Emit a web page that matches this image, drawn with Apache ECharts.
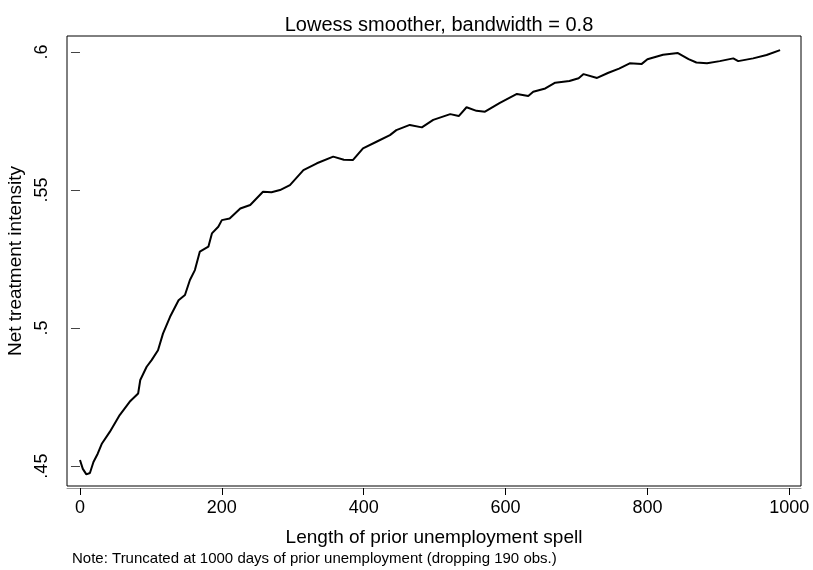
<!DOCTYPE html>
<html>
<head>
<meta charset="utf-8">
<script src="https://cdn.jsdelivr.net/npm/echarts@6/dist/echarts.min.js"></script>
<style>html,body{margin:0;padding:0;background:#fff}#c{width:813px;height:570px}</style>
</head>
<body>
<div id="c"></div>
<script>
const titleText = "Lowess smoother, bandwidth = 0.8";
const xTitle = "Length of prior unemployment spell";
const yTitle = "Net treatment intensity";
const noteText = "Note: Truncated at 1000 days of prior unemployment (dropping 190 obs.)";
const xTicks = [0, 200, 400, 600, 800, 1000];
const xTickLabels = ["0", "200", "400", "600", "800", "1000"];
const yTicks = [0.45, 0.5, 0.55, 0.6];
const yTickLabels = [".45", ".5", ".55", ".6"];
const spellDays = [0,4,9,14,19,25,31,42,56,70,82,85,94,101,110,117,127,139,148,155,162,169,181,186,195,200,211,226,240,258,270,282,296,315,334,357,372,385,399,418,437,446,465,482,498,522,534,545,559,571,592,616,632,639,656,670,690,703,710,729,745,760,775,792,800,822,843,858,869,884,902,921,928,949,968,987];
const intensity = [.4522,.4490,.4470,.4475,.4515,.4545,.4582,.4624,.4685,.4733,.4763,.4812,.4860,.4884,.4920,.4980,.5041,.5101,.5120,.5174,.5210,.5277,.5295,.5343,.5367,.5391,.5397,.5433,.5446,.5494,.5492,.5500,.5518,.5572,.5597,.5621,.5610,.5609,.5651,.5675,.5699,.5717,.5736,.5727,.5754,.5775,.5768,.5800,.5787,.5784,.5816,.5848,.5841,.5856,.5868,.5889,.5895,.5905,.5920,.5906,.5925,.5940,.5959,.5957,.5974,.5990,.5996,.5974,.5962,.5959,.5967,.5977,.5967,.5977,.5989,.6007];

const font = "'Liberation Sans', Arial, sans-serif";
const pick = (ticks, labels) => v => { const i = ticks.findIndex(t => Math.abs(t - v) < 1e-6); return i >= 0 ? labels[i] : ''; };
const chart = echarts.init(document.getElementById('c'));
chart.setOption({
  animation: false,
  backgroundColor: '#fff',
  title: {
    text: titleText, left: 434, top: 10, textAlign: 'center',
    textStyle: {fontFamily: font, fontSize: 20, fontWeight: 'normal', color: '#000'}
  },
  grid: {left: 67, right: 12, top: 36, bottom: 84, show: true, borderColor: '#000', borderWidth: 1,
    backgroundColor: '#fff', containLabel: false, outerBoundsMode: 'none'},
  xAxis: {
    type: 'value', min: -18.3, max: 1016.5,
    name: xTitle, nameLocation: 'middle', nameGap: 40,
    nameTextStyle: {fontFamily: font, fontSize: 19, color: '#000'},
    axisLine: {show: true, onZero: false, lineStyle: {color: '#999', width: 1}},
    offset: 2,
    axisTick: {show: true, length: 7, customValues: xTicks, lineStyle: {color: '#000'}},
    axisLabel: {customValues: xTicks, fontFamily: font, fontSize: 18, color: '#000', margin: 11,
      formatter: pick(xTicks, xTickLabels)},
    splitLine: {show: false}
  },
  yAxis: {
    type: 'value', min: 0.4428, max: 0.6058,
    name: yTitle, nameLocation: 'middle', nameGap: 40, nameRotate: 90,
    nameTextStyle: {fontFamily: font, fontSize: 19, color: '#000'},
    axisLine: {show: false},
    axisTick: {show: true, length: 9, customValues: yTicks, lineStyle: {color: '#444'}},
    axisLabel: {customValues: yTicks, rotate: 90, fontFamily: font, fontSize: 18, color: '#000', margin: 16,
      formatter: pick(yTicks, yTickLabels)},
    splitLine: {show: false}
  },
  graphic: [{
    type: 'text', left: 72, top: 551,
    style: {text: noteText, fontFamily: font, fontSize: 15, fill: '#000'}
  }],
  series: [{
    type: 'line', data: spellDays.map((d, i) => [d, intensity[i]]),
    showSymbol: false, smooth: false,
    lineStyle: {color: '#000', width: 2}
  }]
});
</script>
</body>
</html>
